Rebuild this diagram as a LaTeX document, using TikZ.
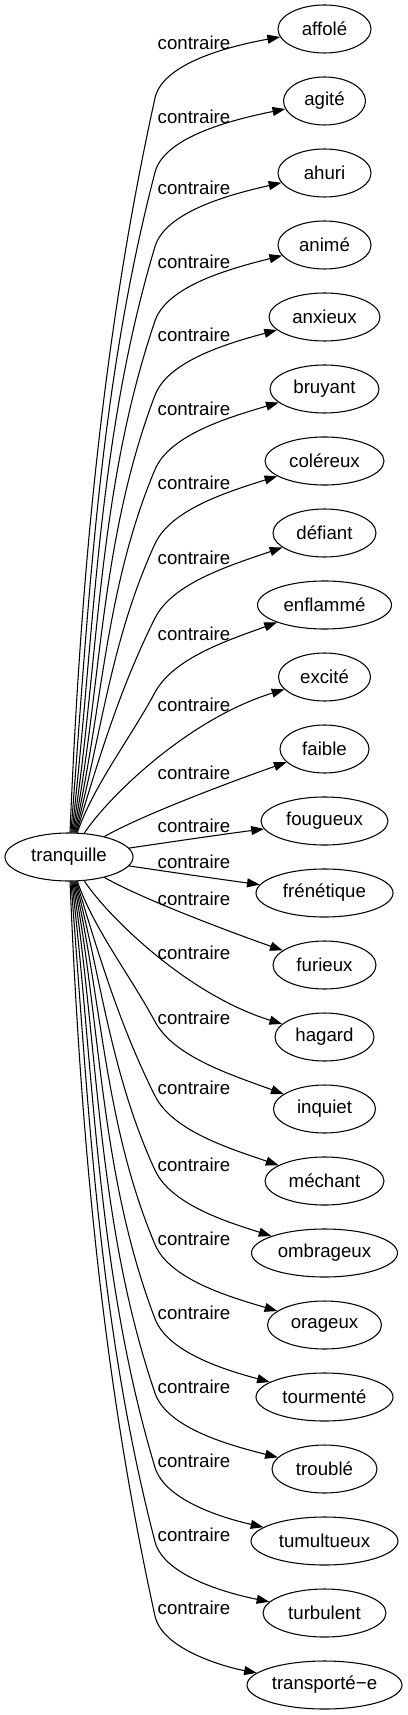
\documentclass[tikz,border=0pt]{standalone}
\usepackage{fontspec}
\setmainfont{Liberation Sans}
\usetikzlibrary{arrows.meta,shapes.geometric}
\begin{document}
\begin{tikzpicture}[x=0.75pt, y=-0.75pt,
  word/.style={draw, ellipse, line width=0.8pt, minimum height=36pt, inner sep=0pt,
    font=\fontsize{14}{16}\selectfont},
  lbl/.style={inner sep=0pt, font=\fontsize{14}{16}\selectfont},
  rel/.style={draw, line width=0.8pt, -{Triangle[length=9.5pt,width=6.75pt]}}
]
\useasboundingbox (0,0) rectangle (407,1715);

\node[word, minimum width=96pt] (tranq) at (69,857) {tranquille};

\foreach \t/\w [count=\k from 0] in {affolé/93, agité/82, ahuri/93, animé/93, anxieux/111,
  bruyant/109, coléreux/119, défiant/103, enflammé/134, excité/92, faible/89,
  fougueux/127, frénétique/137, furieux/103, hagard/99, inquiet/102, méchant/119,
  ombrageux/146, orageux/114, tourmenté/137, troublé/105, tumultueux/147,
  turbulent/123, transporté−e/155}
  \node[word, minimum width=\w*0.75pt] (t\k) at (324.5,{29+72*\k}) {\t};

\foreach \ly [count=\k from 0] in {43,117,188,262,335,409,483,558,634,705,773,826,
  862,899,953,1018,1088,1165,1239,1313,1387,1461,1535,1608}
  \node[lbl] (l\k) at (194,\ly) {contraire};

% edges with a knee near the label column (upper and mirrored lower)
\foreach \i in {0,...,8} {
  \pgfmathsetmacro\yi{29+72*\i}
  \pgfmathsetmacro\Ky{\yi+69+2.3*\i}
  \pgfmathsetmacro\D{833-\Ky}
  \pgfmathsetmacro\tk{0.22+0.04*\i}
  \pgfmathsetmacro\dx{1+0.9*\i}
  \pgfmathsetmacro\pax{69+\dx*(24+\D/3)/24}
  \pgfmathsetmacro\pay{833-\D/3}
  \pgfmathsetmacro\pbx{155-\tk*\D/3}
  \pgfmathsetmacro\pby{\Ky+\D/3}
  \pgfmathsetmacro\cax{155+35*\tk}
  \pgfmathsetmacro\cay{\Ky-35}
  \pgfmathsetmacro\cby{\yi+17+2.2*\i}
  \pgfmathtruncatemacro\j{23-\i}
  \coordinate (ku\i) at (155,\Ky);
  \coordinate (kd\i) at (155,{1714-\Ky});
  \draw[rel] (tranq) .. controls (\pax,\pay) and (\pbx,\pby) .. (ku\i)
    .. controls (\cax,\cay) and (230,\cby) .. (t\i);
  \draw[rel] (tranq) .. controls (\pax,{1714-\pay}) and (\pbx,{1714-\pby}) .. (kd\i)
    .. controls (\cax,{1714-\cay}) and (230,{1714-\cby}) .. (t\j);
}

% edges near the middle
\draw[rel] (tranq) .. controls (105,801) and (185,720) .. (t9);
\draw[rel] (tranq) .. controls (140,816) and (230,782) .. (t10);
\draw[rel] (tranq) .. controls (170,842) and (225,834) .. (t11);
\draw[rel] (tranq) .. controls (170,872) and (225,880) .. (t12);
\draw[rel] (tranq) .. controls (140,898) and (230,932) .. (t13);
\draw[rel] (tranq) .. controls (105,913) and (185,994) .. (t14);
\end{tikzpicture}
\end{document}
